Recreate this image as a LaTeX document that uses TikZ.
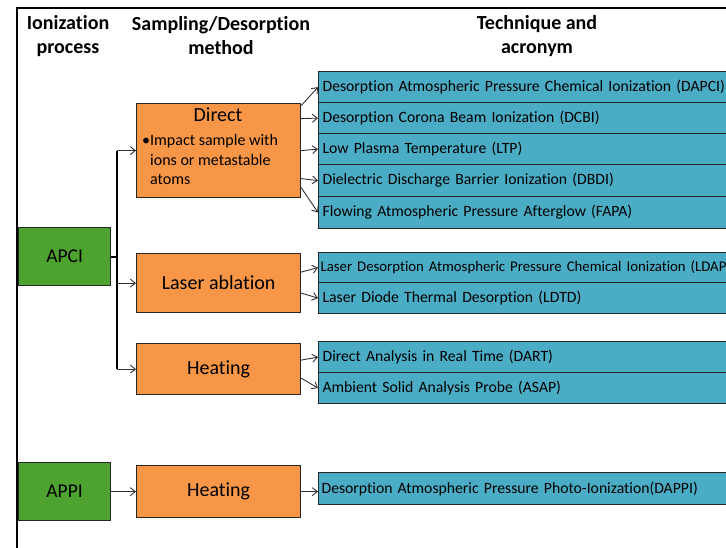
\documentclass[tikz,border=0pt]{standalone}
\usepackage{fontspec}
\setmainfont{Carlito}[Ligatures=NoCommon]
\usetikzlibrary{arrows.meta,calc}
\definecolor{boxorange}{RGB}{247,150,70}
\definecolor{boxblue}{RGB}{75,172,198}
\definecolor{boxgreen}{RGB}{78,162,47}
\definecolor{arrgray}{RGB}{50,50,50}
\tikzset{
  head/.style={font=\fontsize{20}{24}\selectfont\bfseries, align=center},
  procbox/.style={draw=black!85, line width=1.2pt, fill=boxgreen, anchor=north west,
     minimum width=92pt, minimum height=58pt, inner sep=0pt, font=\fontsize{19.5}{22}\selectfont},
  methbox/.style={draw=black!85, line width=1.2pt, fill=boxorange, anchor=north west,
     minimum width=164pt, inner sep=0pt, font=\fontsize{20}{24}\selectfont},
  techbox/.style={draw=black!85, line width=1.2pt, fill=boxblue, anchor=north west,
     text width=420pt, align=left, inner xsep=4pt, inner ysep=0pt, minimum height=31pt,
     font=\fontsize{15.7}{18}\selectfont},
  trunk/.style={line width=1.6pt, black},
  arr/.style={line width=0.9pt, arrgray, -{Straight Barb[length=5pt,width=8pt]}},
}
\begin{document}
\begin{tikzpicture}[x=1pt,y=-1pt]
\useasboundingbox (0,0) rectangle (726,547);
\clip (0,0) rectangle (726,547);
% frame
\draw[line width=2.4pt, black] (17,560) -- (17,8) -- (740,8);
% headers
\node[head] (h1) at (68,36) {Ionization\\process};
\node[head] (h2) at (221,36) {Sampling/Desorption\\method};
\node[head] (h3) at (537,36) {Technique and\\acronym};
% process boxes
\node[procbox] (apci) at (18,227) {APCI};
\node[procbox] (appi) at (18,462) {APPI};
% method boxes
\node[methbox, minimum height=94pt] (direct) at (136,103) {};
\node[anchor=north, font=\fontsize{20}{24}\selectfont, inner sep=0pt] (dtitle) at (218,108) {Direct};
\node[anchor=north west, inner sep=0pt, font=\fontsize{16}{19.5}\selectfont, align=left] (dbul) at (142,132)
  {\begin{tabular}{@{}l@{}l@{}}\textbullet&Impact sample with\\ &ions or metastable\\ &atoms\end{tabular}};
\node[methbox, minimum height=59pt] (laser) at (136,253) {Laser ablation};
\node[methbox, minimum height=51pt] (heat) at (136,343) {Heating};
\node[methbox, minimum height=52pt] (heatb) at (136,465) {Heating};
% technique boxes
\node[techbox] (t1) at (318,71) {Desorption Atmospheric Pressure Chemical Ionization (DAPCI)};
\node[techbox] (t2) at (318,102) {Desorption Corona Beam Ionization (DCBI)};
\node[techbox] (t3) at (318,133) {Low Plasma Temperature (LTP)};
\node[techbox, minimum height=32pt] (t4) at (318,164) {Dielectric Discharge Barrier Ionization (DBDI)};
\node[techbox, minimum height=32pt] (t5) at (318,196) {Flowing Atmospheric Pressure Afterglow (FAPA)};
\node[techbox, inner xsep=2pt, text width=480pt, minimum height=30pt, font=\fontsize{14.8}{17}\selectfont] (t6) at (318,252) {Laser Desorption Atmospheric Pressure Chemical Ionization (LDAPCI)};
\node[techbox] (t7) at (318,282) {Laser Diode Thermal Desorption (LDTD)};
\node[techbox] (t8) at (318,341) {Direct Analysis in Real Time (DART)};
\node[techbox] (t9) at (318,372) {Ambient Solid Analysis Probe (ASAP)};
\node[techbox, minimum height=32pt, inner xsep=3pt] (t10) at (318,472) {Desorption Atmospheric Pressure Photo-Ionization(DAPPI)};
% tree from APCI
\coordinate (bus) at (117,257);
\draw[trunk] (apci.east |- bus) -- (bus);
\draw[trunk] (bus |- direct.west) -- (bus |- heat.west);
\draw[arr] (bus |- direct.west) -- (direct.west);
\draw[arr] (bus |- laser.west) -- (laser.west);
\draw[arr] (bus |- heat.west) -- (heat.west);
% direct to techniques
\draw[arr] ([yshift=45pt]direct.east) -- (t1.west);
\draw[arr] ([yshift=32pt]direct.east) -- (t2.west);
\draw[arr] (direct.east) -- (t3.west);
\draw[arr] ([yshift=-28pt]direct.east) -- (t4.west);
\draw[arr] ([yshift=-37pt]direct.east) -- (t5.west);
% laser
\draw[arr] ([yshift=11pt]laser.east) -- (t6.west);
\draw[arr] ([yshift=-10pt]laser.east) -- (t7.west);
% heating
\draw[arr] ([yshift=9pt]heat.east) -- (t8.west);
\draw[arr] ([yshift=-9pt]heat.east) -- (t9.west);
% APPI
\draw[arr] (appi.east) -- (heatb.west);
\draw[arr] (heatb.east) -- (heatb.east -| t10.west);
\end{tikzpicture}
\end{document}
